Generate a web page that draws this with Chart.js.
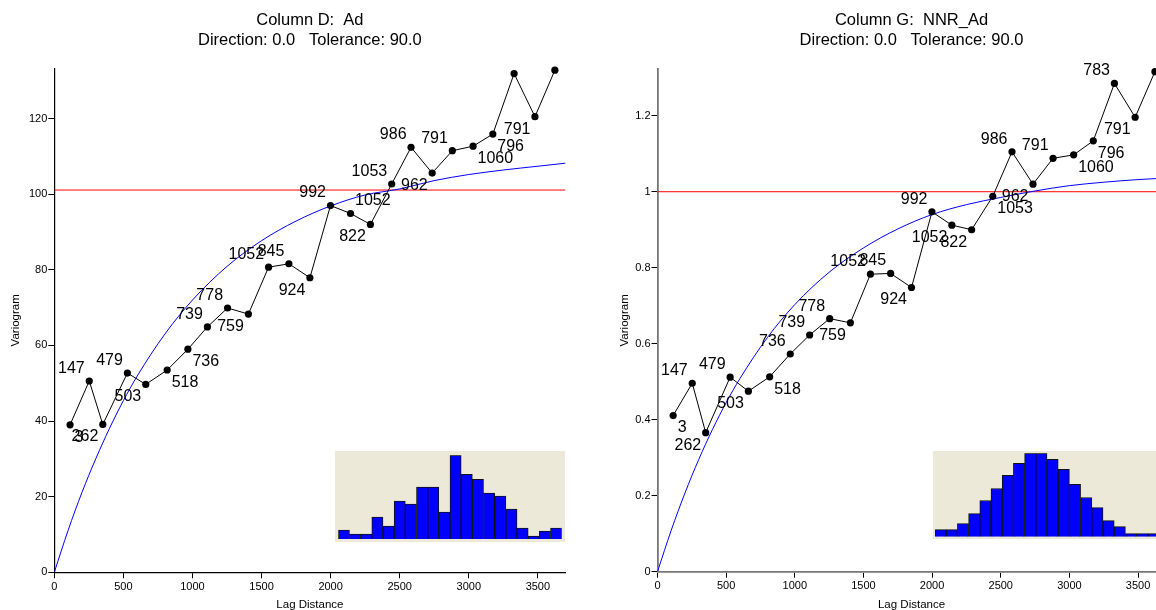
<!DOCTYPE html>
<html><head><meta charset="utf-8">
<script src="https://cdn.jsdelivr.net/npm/chart.js@4/dist/chart.umd.min.js"></script>
<style>
html,body{margin:0;padding:0;width:1156px;height:610px;overflow:hidden;background:#fff;}
canvas{position:absolute;}
</style></head><body>
<canvas id="mainL" width="578" height="610" style="left:0;top:0"></canvas>
<canvas id="mainR" width="600" height="610" style="left:578px;top:0"></canvas>
<canvas id="histL" width="230" height="91" style="left:335px;top:451px"></canvas>
<canvas id="histR" width="230" height="88" style="left:933px;top:451px"></canvas>
<script>
// ---------- data ----------
const lags = [114,253,351,529,662,817,967,1108,1254,1405,1551,1698,1850,1999,2144,2288,2442,2582,2735,2881,3031,3174,3328,3479,3623];
const pairs = [3,147,262,479,503,518,736,739,778,759,1052,845,924,992,1052,822,1053,986,962,791,1060,796,783,791,null];
const variogramAd = [39.0,50.6,39.1,52.7,49.7,53.5,59.0,64.9,69.9,68.3,80.7,81.6,77.9,97.0,94.9,92.0,102.7,112.4,105.6,111.5,112.7,115.9,131.9,120.5,132.8];
const variogramNNR = [0.411,0.496,0.366,0.512,0.475,0.513,0.573,0.623,0.666,0.655,0.783,0.785,0.748,0.947,0.912,0.900,0.988,1.105,1.020,1.088,1.097,1.134,1.285,1.196,1.316];
const modelLags = [0,100,200,300,400,500,600,800,1000,1250,1500,1750,2000,2250,2500,2750,3000,3250,3500,3700];
const modelAd = [0,11.1,21.1,30.0,38.1,45.4,51.9,63.0,72.0,80.9,87.7,92.9,96.9,99.8,101.4,103.6,105.2,106.4,107.4,108.2];
const modelNNR = [0,0.109,0.207,0.295,0.374,0.445,0.508,0.616,0.703,0.788,0.852,0.902,0.940,0.966,0.985,1.002,1.016,1.025,1.032,1.036];
const sillAd = 101.1;
const sillNNR = 1.0;
const xTicks = [0,500,1000,1500,2000,2500,3000,3500];
const yTicksAd = [0,20,40,60,80,100,120];
const yTicksNNR = [0,0.2,0.4,0.6,0.8,1.0,1.2];
const histBins = ['1','2','3','4','5','6','7','8','9','10','11','12','13','14','15','16','17','18','19','20'];
const histAd = [9,5,5,22,13,38,35,52,52,27,84,65,60,46,43,30,11,3,8,11];
const histNNR = [7,7,13,23,36,48,61,73,83,83,77,67,52,39,29,16,10,3,3,3];
// label placement (layout only): t/b = above/below, l/r = left/right of point
const placeAd = ['br','tl','bl','tl','bl','br','br','tl','tl','bl','tl','tl','bl','tl','tr','bl','tl','tl','bl','tl','br','br',null,'bl',null];
const placeNNR = ['br','tl','bl','tl','bl','br','tl','tl','tl','bl','tl','tl','bl','tl','bl','bl','br','tl','bl','tl','br','br','tl','bl',null];

const FAM = '"Liberation Sans", Arial, Helvetica, sans-serif';

const textPlugin = {
  id: 'texts',
  afterDraw(chart, args, o) {
    const ctx = chart.ctx, a = chart.chartArea;
    const cx = (a.left + a.right) / 2;
    ctx.save();
    ctx.fillStyle = '#000';
    ctx.textAlign = 'center';
    ctx.textBaseline = 'middle';
    ctx.font = '16.5px ' + FAM;
    ctx.fillText(o.title1, cx, 20);
    ctx.fillText(o.title2, cx, 40.5);
    ctx.font = '11.5px ' + FAM;
    ctx.fillText('Lag Distance', cx, 605);
    ctx.translate(o.yTitleX, (a.top + a.bottom) / 2);
    ctx.rotate(-Math.PI / 2);
    ctx.fillText('Variogram', 0, 0);
    ctx.restore();

    const meta = chart.getDatasetMeta(0);
    ctx.save();
    ctx.fillStyle = '#000';
    ctx.font = '16px ' + FAM;
    ctx.textBaseline = 'middle';
    meta.data.forEach((pt, i) => {
      const p = o.placement[i];
      if (!p || pairs[i] == null) return;
      const left = p[1] === 'l', top = p[0] === 't';
      ctx.textAlign = left ? 'right' : 'left';
      ctx.fillText(String(pairs[i]), pt.x + (left ? -4.5 : 4.5), pt.y + (top ? -12.5 : 12.5));
    });
    ctx.restore();
  }
};

function mainChart(id, W, H, box, values, model, sill, yMax, yTicks, axisColor, axisW, texts) {
  const pts = lags.map((x, i) => ({x: x, y: values[i]}));
  const mpts = modelLags.map((x, i) => ({x: x, y: model[i]}));
  return new Chart(document.getElementById(id), {
    type: 'scatter',
    data: {datasets: [
      {data: pts, showLine: true, borderColor: '#000', borderWidth: 1, pointRadius: 3.6,
       pointBackgroundColor: '#000', pointBorderColor: '#000', pointBorderWidth: 0, clip: false, order: 0},
      {data: mpts, showLine: true, borderColor: '#0000ff', borderWidth: 1, pointRadius: 0,
       cubicInterpolationMode: 'monotone', order: 1},
      {data: [{x: 0, y: sill}, {x: 3700, y: sill}], showLine: true, borderColor: '#ff0000',
       borderWidth: 1, pointRadius: 0, order: 2}
    ]},
    options: {
      responsive: false, animation: false, devicePixelRatio: 1,
      layout: {padding: {left: 0, top: box.top, right: W - box.right, bottom: 0}},
      plugins: {legend: {display: false}, tooltip: {enabled: false}, texts: texts},
      scales: {
        x: {type: 'linear', min: 0, max: 3700,
          afterBuildTicks: s => { s.ticks = xTicks.map(v => ({value: v})); },
          afterFit: s => { s.height = H - box.bottom; },
          grid: {drawOnChartArea: false, drawTicks: true, tickLength: 6, color: '#000'},
          border: {display: true, color: axisColor, width: axisW},
          ticks: {color: '#000', font: {size: 11, family: FAM}, padding: 2, maxRotation: 0, autoSkip: false,
                  callback: v => String(v)}},
        y: {type: 'linear', min: 0, max: yMax,
          afterBuildTicks: s => { s.ticks = yTicks.map(v => ({value: v})); },
          afterFit: s => { s.width = box.left; },
          grid: {drawOnChartArea: false, drawTicks: true, tickLength: 6, color: '#000'},
          border: {display: true, color: axisColor, width: axisW},
          ticks: {color: '#000', font: {size: 11, family: FAM}, padding: 1, autoSkip: false,
                  callback: v => String(Number(v.toFixed(2)))}}
      }
    },
    plugins: [textPlugin]
  });
}

mainChart('mainL', 578, 610, {left: 54.3, right: 565.5, top: 68.3, bottom: 572.3},
  variogramAd, modelAd, sillAd, 133.3, yTicksAd, '#000', 1.2,
  {title1: 'Column D:  Ad', title2: 'Direction: 0.0   Tolerance: 90.0', yTitleX: 16, placement: placeAd});

mainChart('mainR', 600, 610, {left: 79.5, right: 587.5, top: 69, bottom: 571.7},
  variogramNNR, modelNNR, sillNNR, 1.323, yTicksNNR, '#777', 1.8,
  {title1: 'Column G:  NNR_Ad', title2: 'Direction: 0.0   Tolerance: 90.0', yTitleX: 47, placement: placeNNR});

const bgPlugin = {
  id: 'bg',
  beforeDraw(chart) {
    const ctx = chart.ctx;
    ctx.save();
    ctx.fillStyle = '#ECE9D8';
    ctx.fillRect(0, 0, chart.width, chart.height);
    ctx.restore();
  }
};

function histChart(id, counts, pad) {
  return new Chart(document.getElementById(id), {
    type: 'bar',
    data: {labels: histBins, datasets: [{data: counts, backgroundColor: '#0000ff', borderColor: '#111',
      borderWidth: 1, barPercentage: 1, categoryPercentage: 1}]},
    options: {
      responsive: false, animation: false, devicePixelRatio: 1,
      layout: {padding: pad},
      plugins: {legend: {display: false}, tooltip: {enabled: false}},
      scales: {x: {display: false}, y: {display: false, min: 0, max: Math.max(...counts)}}
    },
    plugins: [bgPlugin]
  });
}
histChart('histL', histAd, {left: 3.3, right: 3.3, top: 4.3, bottom: 3});
histChart('histR', histNNR, {left: 2, right: 4, top: 2.3, bottom: 2.3});
</script>
</body></html>
